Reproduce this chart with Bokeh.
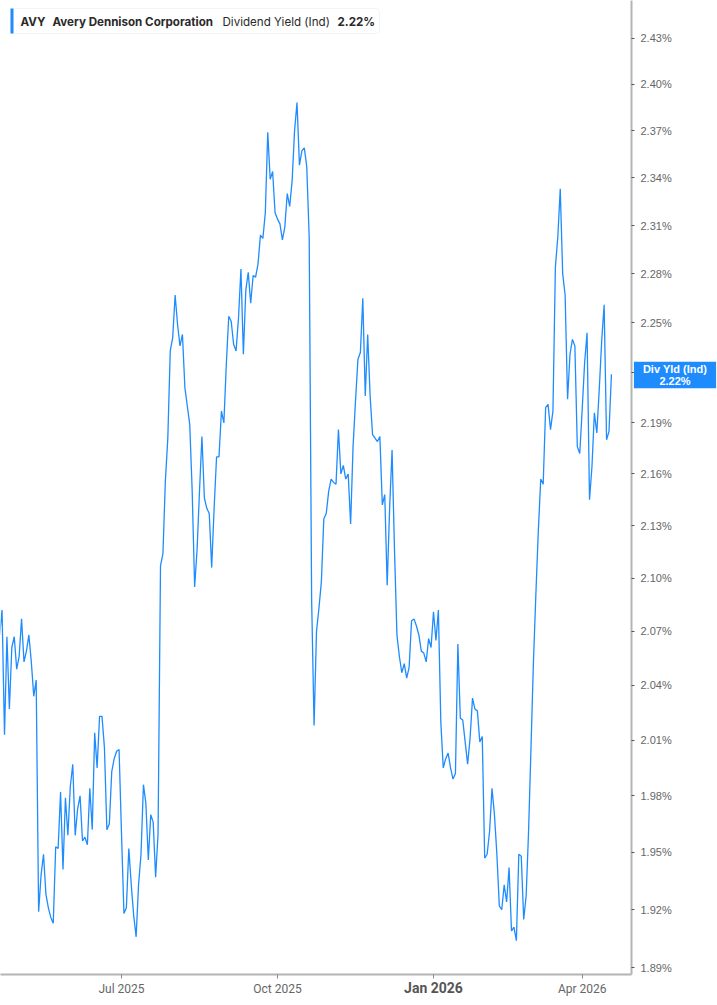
import pandas as pd
from bokeh.plotting import figure
from bokeh.models import (Range1d, FixedTicker, PrintfTickFormatter, Label,
                          BoxAnnotation, ColumnDataSource, LinearAxis, LogAxis)
from bokeh.embed import file_html
from bokeh.resources import INLINE

# ---------------- data ----------------
ticker_symbol = "AVY"
company_name = "Avery Dennison Corporation"
metric_name = "Dividend Yield (Ind)"
latest_text = "2.22%"
badge_title = "Div Yld (Ind)"

first_day = "2025-04-17"
market_holidays = ["2025-04-18", "2025-05-26", "2025-06-19", "2025-07-04",
                   "2025-09-01", "2025-11-27", "2025-12-25", "2026-01-01",
                   "2026-01-19", "2026-02-16", "2026-04-03"]

# daily dividend yield (%), one value per trading day from first_day
yield_pct = [
    2.068, 2.082, 2.013, 2.067, 2.027, 2.061, 2.067, 2.049, 2.056, 2.077,
    2.053, 2.059, 2.068, 2.053, 2.034, 2.043, 1.919, 1.938, 1.949, 1.928,
    1.921, 1.916, 1.913, 1.953, 1.952, 1.982, 1.941, 1.979, 1.959, 1.985,
    1.997, 1.959, 1.973, 1.980, 1.956, 1.958, 1.954, 1.984, 1.962, 2.014,
    1.995, 2.023, 2.023, 2.006, 1.962, 1.965, 1.993, 2.000, 2.004, 2.005,
    1.960, 1.918, 1.921, 1.952, 1.933, 1.917, 1.906, 1.933, 1.949, 1.986,
    1.976, 1.946, 1.970, 1.966, 1.937, 1.960, 2.107, 2.114, 2.156, 2.181,
    2.233, 2.241, 2.267, 2.249, 2.236, 2.243, 2.211, 2.200, 2.189, 2.150,
    2.095, 2.116, 2.150, 2.182, 2.146, 2.140, 2.137, 2.106, 2.140, 2.170,
    2.170, 2.197, 2.190, 2.225, 2.254, 2.251, 2.237, 2.233, 2.253, 2.283,
    2.231, 2.270, 2.281, 2.262, 2.279, 2.278, 2.286, 2.304, 2.302, 2.318,
    2.369, 2.339, 2.344, 2.318, 2.314, 2.311, 2.301, 2.309, 2.330, 2.322,
    2.338, 2.370, 2.388, 2.348, 2.357, 2.359, 2.347, 2.303, 2.088, 2.018,
    2.070, 2.083, 2.098, 2.134, 2.137, 2.150, 2.157, 2.155, 2.154, 2.186,
    2.160, 2.165, 2.157, 2.160, 2.131, 2.176, 2.203, 2.228, 2.232, 2.265,
    2.206, 2.243, 2.206, 2.183, 2.181, 2.179, 2.182, 2.142, 2.148, 2.096,
    2.140, 2.174, 2.116, 2.068, 2.056, 2.047, 2.052, 2.044, 2.050, 2.076,
    2.077, 2.073, 2.068, 2.059, 2.058, 2.053, 2.066, 2.061, 2.081, 2.065,
    2.082, 2.020, 1.995, 2.000, 2.003, 1.995, 1.989, 1.992, 2.063, 2.022,
    2.021, 2.009, 1.997, 2.011, 2.033, 2.027, 2.026, 2.009, 2.012, 1.947,
    1.949, 1.961, 1.984, 1.970, 1.949, 1.922, 1.920, 1.933, 1.924, 1.942,
    1.909, 1.911, 1.904, 1.949, 1.948, 1.915, 1.927, 1.961, 2.006, 2.053,
    2.091, 2.127, 2.157, 2.154, 2.199, 2.201, 2.186, 2.197, 2.284, 2.303,
    2.333, 2.280, 2.267, 2.204, 2.231, 2.240, 2.236, 2.176, 2.172, 2.198,
    2.226, 2.244, 2.145, 2.164, 2.196, 2.184, 2.210, 2.239, 2.261, 2.180,
    2.185, 2.219,
]

ytick_values = [1.89, 1.92, 1.95, 1.98, 2.01, 2.04, 2.07, 2.10, 2.13, 2.16,
                2.19, 2.22, 2.25, 2.28, 2.31, 2.34, 2.37, 2.40, 2.43]
month_labels = ["Jul 2025", "Oct 2025", "Jan 2026", "Apr 2026"]
bold_month = "Jan 2026"

# ---------------- derived ----------------
dates = pd.bdate_range(start=first_day, periods=len(yield_pct), freq="C",
                       holidays=market_holidays)
day_index = list(range(len(yield_pct)))
month_of_day = [d.strftime("%b %Y") for d in dates]
tick_pos = [month_of_day.index(m) for m in month_labels]
bold_pos = tick_pos[month_labels.index(bold_month)]

src = ColumnDataSource(dict(i=day_index, v=yield_pct,
                            d=[d.strftime("%Y-%m-%d") for d in dates]))

BLUE = "#1e8cff"

p = figure(frame_width=631, frame_height=974,
           x_range=Range1d(0.36, 259.23), y_range=Range1d(1.88668, 2.45483),
           y_axis_type="log", y_axis_location="right",
           output_backend="svg", toolbar_location=None,
           min_border_left=0, min_border_top=0,
           min_border_right=86, min_border_bottom=0)
p.grid.visible = False
p.outline_line_color = None
p.background_fill_color = "white"
p.border_fill_color = "white"

p.line(x="i", y="v", source=src, line_color=BLUE, line_width=1.3)

# bottom axis (regular month labels)
xa = p.xaxis[0]
xa.ticker = FixedTicker(ticks=tick_pos)
xa.major_label_overrides = {tick_pos[k]: ("" if m == bold_month else m)
                            for k, m in enumerate(month_labels)}
xa.axis_line_color = "#b4b4b4"
xa.axis_line_width = 2
xa.major_tick_line_color = "#8a8a8a"
xa.major_tick_out = 4
xa.major_tick_in = 0
xa.minor_tick_line_color = None
xa.major_label_standoff = 3
xa.major_label_text_font = "Roboto"
xa.major_label_text_font_size = "12px"
xa.major_label_text_color = "#666666"

# second bottom axis carrying only the bold year-start label, pulled up
xb = LinearAxis(ticker=FixedTicker(ticks=[bold_pos]),
                major_label_overrides={bold_pos: bold_month})
xb.axis_line_color = None
xb.major_tick_line_color = None
xb.minor_tick_line_color = None
xb.major_tick_out = 0
xb.major_tick_in = 0
xb.major_label_standoff = -19
xb.major_label_text_font = "Roboto"
xb.major_label_text_font_style = "bold"
xb.major_label_text_font_size = "14px"
xb.major_label_text_color = "#555555"
p.add_layout(xb, "below")

# right axis: line and ticks at the frame edge
ya = p.yaxis[0]
ya.ticker = FixedTicker(ticks=ytick_values)
ya.formatter = PrintfTickFormatter(format="%.2f%%")
ya.axis_line_color = "#b4b4b4"
ya.axis_line_width = 2
ya.major_tick_line_color = "#555555"
ya.major_tick_out = 3
ya.major_tick_in = 0
ya.minor_tick_line_color = None
ya.major_label_standoff = 0
ya.major_label_text_font_size = "0px"
ya.major_label_text_alpha = 0

# current-value badge, kept in the right panel so it is not clipped
p.add_layout(Label(x=674.5, y=374.5, x_units="canvas", y_units="canvas",
                   text=badge_title + "\n" + latest_text,
                   text_align="center", text_baseline="middle",
                   text_font="Liberation Sans", text_font_style="bold",
                   text_font_size="11px", text_color="white",
                   text_line_height=1.05,
                   background_fill_color=BLUE, background_fill_alpha=1.0,
                   padding=(9, 1)), "right")

# right axis tick labels, pulled back next to the frame edge
yb = LogAxis(ticker=FixedTicker(ticks=ytick_values),
             formatter=PrintfTickFormatter(format="%.2f%%"))
yb.axis_line_color = None
yb.major_tick_line_color = None
yb.minor_tick_line_color = None
yb.major_tick_out = 0
yb.major_tick_in = 0
yb.major_label_standoff = -76
yb.major_label_text_font = "Liberation Sans"
yb.major_label_text_font_size = "11px"
yb.major_label_text_color = "#666666"
p.add_layout(yb, "right")

# legend box (top-left)
cu = dict(left_units="canvas", right_units="canvas",
          top_units="canvas", bottom_units="canvas")
p.add_layout(BoxAnnotation(left=10, right=379, top=8, bottom=33,
                           fill_color="white", fill_alpha=1.0,
                           line_color="#dcdcdc", line_width=1,
                           border_radius=4, level="overlay", **cu))
p.add_layout(BoxAnnotation(left=10, right=13, top=8, bottom=33,
                           fill_color=BLUE, fill_alpha=1.0,
                           line_color=None, level="overlay", **cu))
for xpos, txt, style in [(20, ticker_symbol, "bold"), (52, company_name, "bold"),
                         (222, metric_name, "normal"), (337, latest_text, "bold")]:
    p.add_layout(Label(x=xpos, y=21, x_units="canvas", y_units="canvas",
                       text=txt, text_align="left", text_baseline="middle",
                       text_font="Inter", text_font_style=style, level="overlay",
                       text_font_size="11.6px", text_color="#2a2a2a"))

open("out.html", "w").write(file_html(p, INLINE))
